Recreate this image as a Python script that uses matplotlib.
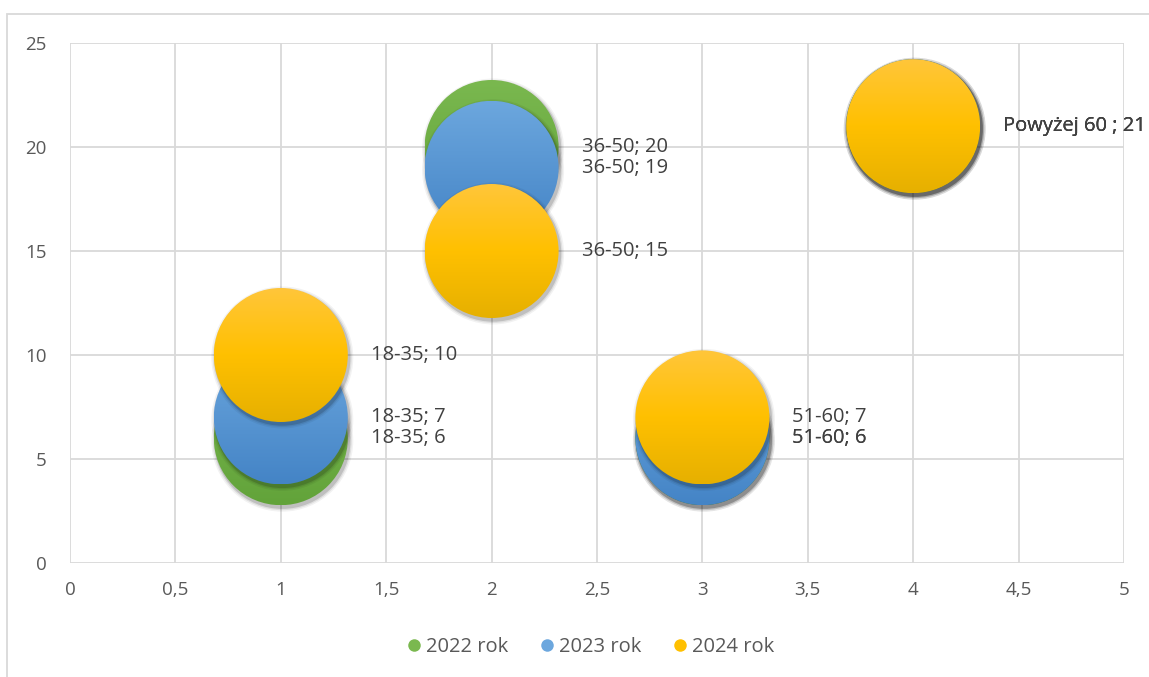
import numpy as np
import matplotlib.pyplot as plt
import matplotlib.patches as mpatches
from matplotlib.lines import Line2D

# data
groups = ['18-35', '36-50', '51-60', 'Powyżej 60 ']
x_pos = [1, 2, 3, 4]
y_2022 = [6, 20, 6, 21]
y_2023 = [7, 19, 6, 21]
y_2024 = [10, 15, 7, 21]
series_names = ['2022 rok', '2023 rok', '2024 rok']
bubble_size = [1, 1, 1, 1]

series = [
    (series_names[0], y_2022, ('#7ab84f', '#62a33a')),
    (series_names[1], y_2023, ('#6ca7de', '#4484c6')),
    (series_names[2], y_2024, ('#ffc63a', '#ffc000', '#e6b000')),
]

plt.rcParams['font.family'] = ['Open Sans', 'DejaVu Sans']
txt_col = '#404040'
grid_col = '#d9d9d9'

fig = plt.figure(figsize=(11.49, 6.77), dpi=100)
ax = fig.add_axes([70 / 1149, 1 - 563 / 677, 1054 / 1149, 520 / 677])
ax.set_xlim(0, 5)
ax.set_ylim(0, 25)
ax.set_xticks(np.arange(0, 5.01, 0.5))
ax.set_yticks(np.arange(0, 26, 5))
ax.set_xticklabels([f'{v:g}'.replace('.', ',') for v in np.arange(0, 5.01, 0.5)])
ax.grid(True, color=grid_col, lw=1.3)
ax.set_axisbelow(True)
for s in ax.spines.values():
    s.set_visible(False)
ax.tick_params(length=0, colors='#595959', labelsize=13.5, pad=13)
ax.tick_params(axis='y', pad=17)

# outer chart frame
fig.patches.append(mpatches.Rectangle((7 / 1149, -0.1), 1.2, 1 - 14 / 677 + 0.1,
                                      transform=fig.transFigure, fill=False,
                                      edgecolor=grid_col, lw=1.3))

radius_px = 67
px_per_x = ax.transData.transform((1, 0))[0] - ax.transData.transform((0, 0))[0]
px_per_y = ax.transData.transform((0, 1))[1] - ax.transData.transform((0, 0))[1]

grad = np.linspace(0, 1, 256).reshape(-1, 1)
z = 3
for name, ys, cols in series:
    cmap = plt.matplotlib.colors.LinearSegmentedColormap.from_list(name, list(cols))
    for x, y, b in zip(x_pos, ys, bubble_size):
        cx, cy = ax.transData.transform((x, y))
        r = radius_px * b
        # soft shadow
        for k, a in [(4, 0.05), (2.5, 0.08), (1.2, 0.14)]:
            sh = mpatches.Circle((cx + 1.5, cy - 2.5), r + k, transform=None,
                                 facecolor='#000000', alpha=a, edgecolor='none', zorder=z)
            ax.add_artist(sh)
        circ = mpatches.Circle((cx, cy), r, transform=None, facecolor='none',
                               edgecolor='none', zorder=z + 0.5)
        ax.add_artist(circ)
        dx, dy = r / px_per_x, r / px_per_y
        im = ax.imshow(grad, cmap=cmap, aspect='auto', origin='upper',
                       extent=(x - dx, x + dx, y - dy, y + dy), zorder=z + 0.5,
                       interpolation='bilinear')
        im.set_clip_path(circ)
        z += 1

ax.set_xlim(0, 5)
ax.set_ylim(0, 25)

# data labels
for name, ys, _ in series:
    for g, x, y in zip(groups, x_pos, ys):
        ax.annotate(f'{g}; {y}', (x, y), xytext=(90, 0), textcoords='offset pixels',
                    ha='left', va='center', fontsize=14.5, color=txt_col,
                    zorder=50, annotation_clip=False)

handles = [Line2D([], [], marker='o', ls='none', markersize=9,
                  markerfacecolor=c[0] if i < 2 else c[1], markeredgecolor='none')
           for i, (_, _, c) in enumerate(series)]
fig.legend(handles, series_names, loc='center', bbox_to_anchor=(588 / 1149, 1 - 647 / 677),
           ncol=3, frameon=False, fontsize=14.5, labelcolor='#595959',
           handletextpad=0.0, columnspacing=1.3, handlelength=1.2)

fig.savefig('out.png', dpi=100)
